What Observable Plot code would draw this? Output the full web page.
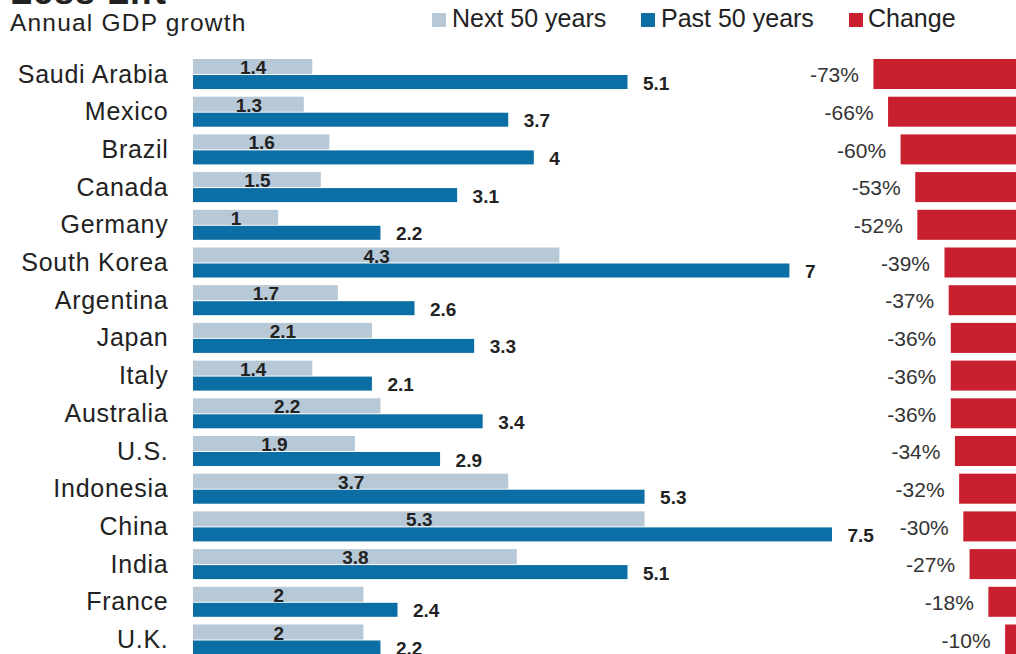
<!DOCTYPE html>
<html><head><meta charset="utf-8">
<script src="https://cdn.jsdelivr.net/npm/d3@7"></script>
<script src="https://cdn.jsdelivr.net/npm/@observablehq/plot@0.6"></script>
<style>
html,body{margin:0;padding:0;background:#fff;overflow:hidden}
#chart{position:relative;width:1016px;height:654px;overflow:hidden;font-family:"Liberation Sans",Arial,sans-serif;color:#222;background:#fff}
.abs{position:absolute;white-space:nowrap;line-height:1;transform-origin:0 0}
.sw{position:absolute;width:14px;height:14px}
#chart svg{position:absolute;left:0;top:0}
</style></head><body><div id="chart"></div>
<script>
const title = "Less Lift";
const subtitle = "Annual GDP growth";
const countries = ["Saudi Arabia","Mexico","Brazil","Canada","Germany","South Korea","Argentina","Japan","Italy","Australia","U.S.","Indonesia","China","India","France","U.K."];
const nextGrowth = [1.4,1.3,1.6,1.5,1,4.3,1.7,2.1,1.4,2.2,1.9,3.7,5.3,3.8,2,2];
const pastGrowth = [5.1,3.7,4,3.1,2.2,7,2.6,3.3,2.1,3.4,2.9,5.3,7.5,5.1,2.4,2.2];
const changePct = [-73,-66,-60,-53,-52,-39,-37,-36,-36,-36,-34,-32,-30,-27,-18,-10];
const seriesNames = ["Next 50 years","Past 50 years","Change"];
const seriesColors = ["#b7c8d7","#0b6ea4","#c8202f"];

const rows = countries.map((c,i)=>({country:c,next:nextGrowth[i],past:pastGrowth[i],change:changePct[i]}));
const FONT = "Liberation Sans, Arial, sans-serif";
const chart = document.getElementById("chart");

const yScale = {type:"band", domain:countries, range:[55.15,658.35], paddingInner:0.204, paddingOuter:0.102, round:false, axis:null};

const p1 = Plot.plot({
  width:1016, height:654, margin:0,
  style:"background:transparent;overflow:visible",
  x:{domain:[0,7.5], range:[193,832], axis:null},
  y:yScale,
  marks:[
    Plot.barX(rows,{x:"next", y:"country", fill:seriesColors[0], insetBottom:15}),
    Plot.barX(rows,{x:"past", y:"country", fill:seriesColors[1], insetTop:16}),
    Plot.text(rows,{x:d=>d.next/2, y:"country", text:d=>String(d.next), dy:-6.5, fontWeight:"bold", fontSize:19, fill:"#222", fontFamily:FONT}),
    Plot.text(rows,{x:"past", y:"country", text:d=>String(d.past), dx:15, dy:9, textAnchor:"start", fontWeight:"bold", fontSize:19, fill:"#222", fontFamily:FONT}),
    Plot.text(rows,{x:d=>0, y:"country", text:"country", dx:-25, textAnchor:"end", fontSize:25, fill:"#222", fontFamily:FONT})
  ]
});
const textGroups = p1.querySelectorAll('g[aria-label="text"]');
textGroups[textGroups.length-1].setAttribute("letter-spacing","0.75");

const p2 = Plot.plot({
  width:1016, height:654, margin:0,
  style:"background:transparent;overflow:hidden",
  x:{domain:[-100,0], range:[817,1026], axis:null},
  y:yScale,
  marks:[
    Plot.barX(rows,{x1:"change", x2:d=>0, y:"country", fill:seriesColors[2]}),
    Plot.text(rows,{x:"change", y:"country", text:d=>d.change+"%", dx:-15, dy:1, textAnchor:"end", fontSize:21, fill:"#333", fontFamily:FONT})
  ]
});

chart.appendChild(p1);
chart.appendChild(p2);

function addText(txt, left, top, size, weight, ls){
  const d = document.createElement("div");
  d.className = "abs"; d.textContent = txt;
  d.style.left = left+"px"; d.style.top = top+"px";
  d.style.fontSize = size+"px"; d.style.fontWeight = weight||"normal";
  if (ls) d.style.letterSpacing = ls+"px";
  chart.appendChild(d); return d;
}
addText(title, 10, -26.5, 36, "bold", 1);
addText(subtitle, 10, 11.2, 24.5, "normal", 1.2);
const swX = [432,641,849], txX = [452,661,868];
seriesNames.forEach((n,i)=>{
  const s = document.createElement("div");
  s.className = "sw"; s.style.left = swX[i]+"px"; s.style.top = "12.5px"; s.style.background = seriesColors[i];
  chart.appendChild(s);
  addText(n, txX[i], 6, 25, "normal");
});
</script></body></html>
